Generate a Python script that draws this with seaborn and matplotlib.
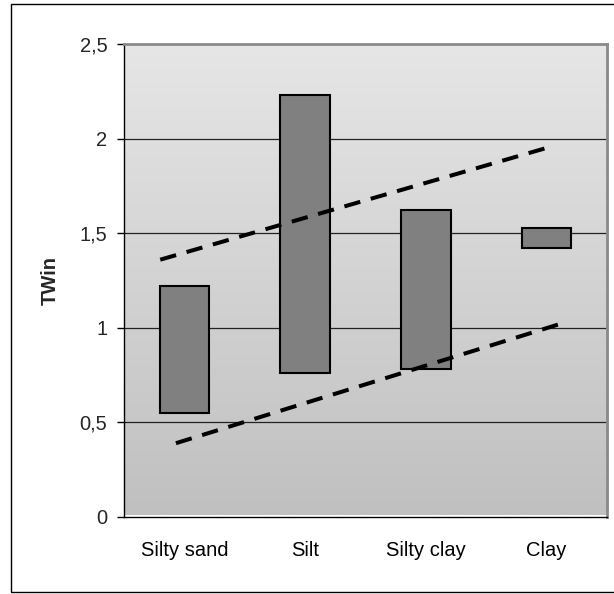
import numpy as np
import pandas as pd
import matplotlib
matplotlib.use("Agg")
import matplotlib.pyplot as plt
import seaborn as sns
from matplotlib.patches import Rectangle

# ---- data ----
categories = ["Silty sand", "Silt", "Silty clay", "Clay"]
low_values = [0.55, 0.76, 0.78, 1.42]
high_values = [1.22, 2.23, 1.62, 1.53]
upper_line_x = [-0.20, 3.05]
upper_line_y = [1.36, 1.96]
lower_line_x = [-0.07, 3.16]
lower_line_y = [0.39, 1.03]
y_ticks = [0, 0.5, 1, 1.5, 2, 2.5]
y_tick_labels = ["0", "0,5", "1", "1,5", "2", "2,5"]
y_label = "TWin"

df = pd.DataFrame({
    "category": categories,
    "low": low_values,
    "span": np.array(high_values) - np.array(low_values),
})

sns.set_theme(style="white")
plt.rcParams["font.family"] = ["Liberation Sans", "DejaVu Sans"]

W, H = 614, 594
fig = plt.figure(figsize=(W / 100, H / 100), dpi=100)
fig.patch.set_facecolor("white")

# outer border
fig.patches.append(Rectangle((11 / W, 1 - 592 / H), (W + 20 - 11) / W, (592 - 4) / H,
                             transform=fig.transFigure, fill=False,
                             edgecolor="#000000", linewidth=1.0, zorder=0))

ax = fig.add_axes([124 / W, 1 - 517 / H, (607 - 124) / W, (517 - 44) / H])

# gradient background
grad = np.linspace(0, 1, 256).reshape(-1, 1)
cmap = matplotlib.colors.LinearSegmentedColormap.from_list("bg", ["#e6e6e6", "#c0c0c0"])
ax.imshow(grad, extent=[0, 1, 0.005, 1], transform=ax.transAxes, cmap=cmap,
          aspect="auto", zorder=0, interpolation="bilinear")

sns.barplot(data=df, x="category", y="span", bottom=df["low"].values, ax=ax,
            color="#808080", width=0.41, edgecolor="black", linewidth=1.5,
            saturation=1, zorder=3)

# dashed trend lines
for lx, ly in [(upper_line_x, upper_line_y), (lower_line_x, lower_line_y)]:
    ax.plot(lx, ly, color="black", linewidth=2.9, dashes=(4.1, 2.7), zorder=4,
            dash_capstyle="butt")

ax.set_xlim(-0.5, len(categories) - 0.5)
ax.set_ylim(0, 2.5)

# grid
for yv in y_ticks[1:-1]:
    ax.axhline(yv, color="#222222", linewidth=0.9, zorder=1)

ax.set_yticks(y_ticks)
ax.set_yticklabels(y_tick_labels, fontsize=14.5)
ax.set_xticks(range(len(categories)))
ax.set_xticklabels(categories, fontsize=14.5)
ax.set_xticks(np.arange(-0.5, len(categories), 1.0), minor=True)
ax.tick_params(axis="x", which="major", length=0, pad=17, colors="black")
ax.tick_params(axis="x", which="minor", length=6, width=1, color="black", direction="out")
ax.tick_params(axis="y", which="major", length=5, width=1, color="black", direction="out",
               pad=7, left=True)
ax.set_xlabel("")
ax.set_ylabel(y_label, fontsize=14.5, fontweight="bold")
ax.yaxis.set_label_coords(-0.133, 0.5)

for s in ["left", "bottom"]:
    ax.spines[s].set_color("black")
    ax.spines[s].set_linewidth(1.0)
for s in ["top", "right"]:
    ax.spines[s].set_color("#8a8a8a")
    ax.spines[s].set_linewidth(2.0)
    ax.spines[s].set_visible(True)

fig.savefig("out.png", dpi=100)
